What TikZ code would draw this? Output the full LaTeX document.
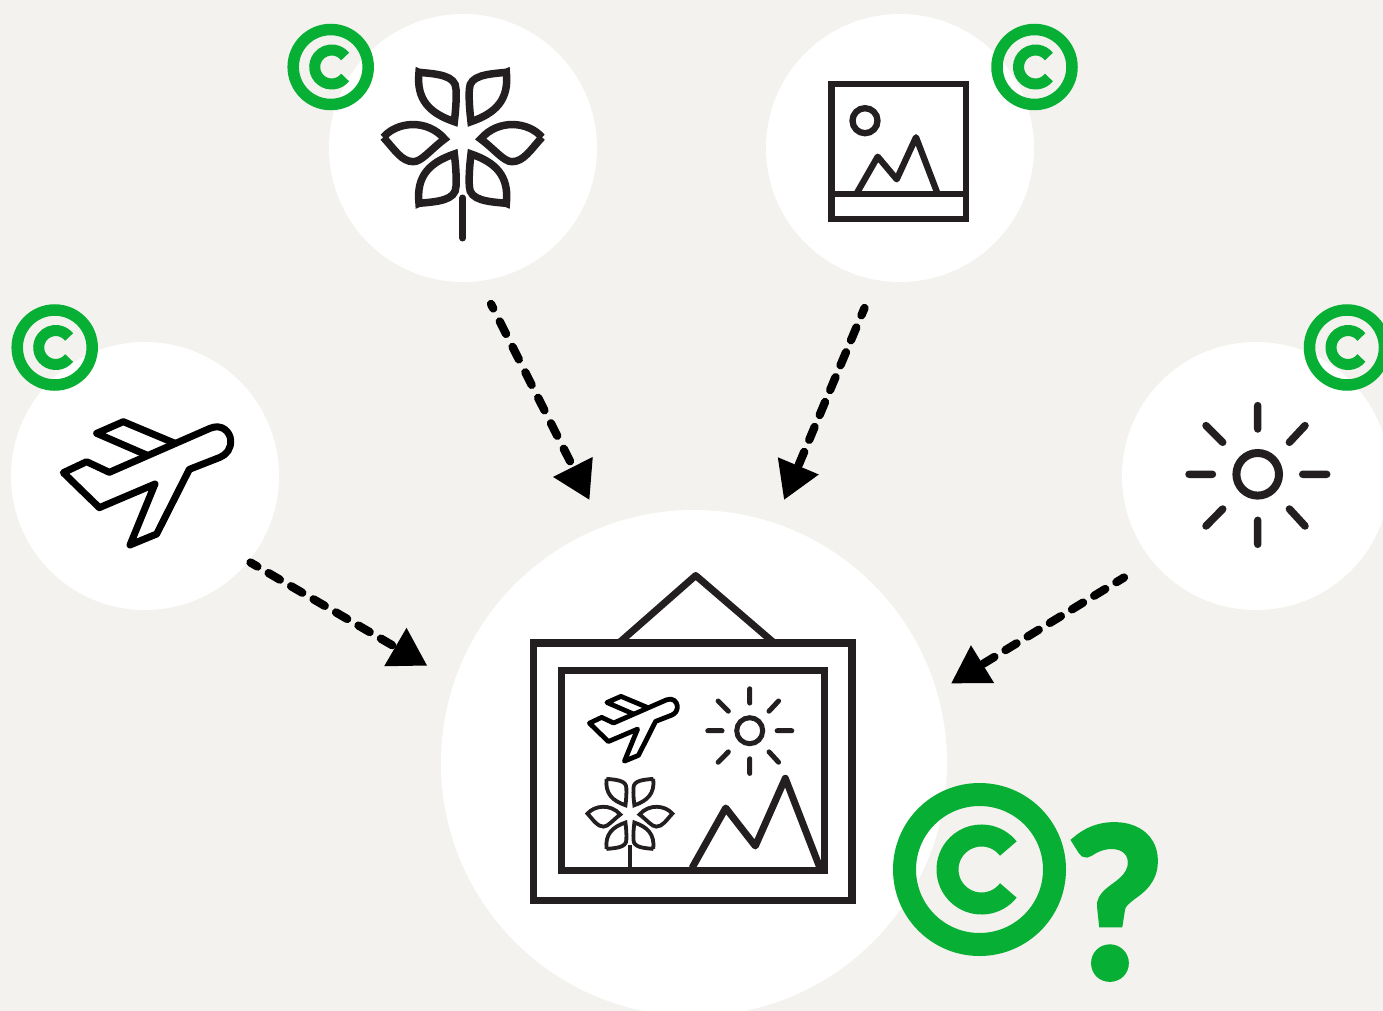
\documentclass[tikz,border=0pt]{standalone}
\usepackage{fontspec}
\usetikzlibrary{arrows.meta}
\newfontfamily\qmfont[BoldFeatures={FakeBold=3}]{Lato}
\definecolor{bgc}{HTML}{F3F2EE}
\definecolor{grn}{HTML}{07AF34}
\definecolor{ink}{HTML}{231F20}
\tikzset{
  disc/.style={circle,fill=white,inner sep=0pt,minimum size=#1},
  dasharrow/.style={line width=8.3pt,black,line cap=round,-{Triangle[length=37pt,width=42pt]}},
}
\newcommand{\copyr}[3]{%
  \begin{scope}[shift={(#1,#2)},scale=#3]
    \draw[grn,line width=#3*23pt] (0,0) circle (75);
    \draw[grn,line width=#3*22pt] (2,0) ++(38:34) arc[start angle=38,end angle=322,radius=34];
  \end{scope}}
\newcommand{\planeicon}[4]{%
  \begin{scope}[shift={(#1,#2)},scale=#3]
    \draw[black,line width=#4,line join=round,line cap=round]
      (328,277) -- (630,145) .. controls (665,130) and (690,155) .. (692,180)
      .. controls (694,205) and (680,224) .. (660,232) -- (568,268) -- (470,462) -- (390,495)
      -- (465,312) -- (298,383) -- (190,278) -- (260,245) -- cycle;
    \draw[black,line width=#4,line join=round,line cap=round]
      (440,225) -- (290,160) -- (370,125) -- (525,190);
  \end{scope}}
\newcommand{\onepetal}{(447,187) .. controls (500,192) and (558,195) .. (558,238)
      .. controls (560,270) and (556,310) .. (553,335)
      .. controls (480,310) and (438,270) .. cycle}
\newcommand{\sidepetal}{(340,382) .. controls (380,335) and (470,325) .. (524,387)
        .. controls (480,420) and (455,455) .. (430,455)
        .. controls (395,455) and (375,420) .. cycle}
\newcommand{\flowericon}[4]{%
  \begin{scope}[shift={(#1,#2)},scale=#3]
    \begin{scope}[draw=ink,line width=#4,miter limit=3]
      \draw \onepetal;
      \draw[shift={(1156,0)},xscale=-1] \onepetal;
      \draw[shift={(0,767)},yscale=-1] \onepetal;
      \draw[shift={(1156,767)},scale=-1] \onepetal;
      \draw \sidepetal;
      \draw[shift={(1156,0)},xscale=-1] \sidepetal;
    \end{scope}
  \end{scope}}
\newcommand{\sunicon}[5]{%
  \begin{scope}[shift={(#1,#2)},scale=#3]
    \draw[ink,line width=#4] (0,0) circle (21.3);
    \draw[ink,line width=#5,line cap=round]
      (0,-68.7) -- (0,-45.3) (0,70) -- (0,46) (-68.7,0) -- (-45.3,0) (69,0) -- (45,0)
      (-51.7,-48.7) -- (-35,-32) (47.3,-48.7) -- (31.7,-32)
      (-51.7,51.7) -- (-35,34.7) (47.3,51.7) -- (31.7,34.7);
  \end{scope}}
\begin{document}
\begin{tikzpicture}[x=1pt,y=-1pt]
  \useasboundingbox (0,0) rectangle (1383,1011);
  \clip (0,0) rectangle (1383,1011);
  \fill[bgc] (0,0) rectangle (1383,1011);

  \node[disc=268pt] (flower) at (463,148) {};
  \node[disc=268pt] (picture) at (900,148) {};
  \node[disc=268pt] (plane) at (145,476) {};
  \node[disc=268pt] (sun) at (1256,476) {};
  \node[disc=506pt] (result) at (694,763) {};

  % copyright marks
  \copyr{330.7}{67}{0.5}
  \copyr{1034.5}{67}{0.5}
  \copyr{54.7}{347.5}{0.5}
  \copyr{1347}{347.5}{0.5}
  \copyr{979.5}{869.5}{1}
  \node[text=grn,inner sep=0pt,font=\qmfont\bfseries\fontsize{208}{208}\selectfont] (qm) at (1115,902) {?};

  % plane icon
  \planeicon{0}{380}{1/3}{7pt}
  % flower icon
  \flowericon{270}{10}{1/3}{7.5pt}
  \draw[ink,line width=7pt,line cap=round] (462.7,198) -- (462.7,238);
  % picture icon
  \draw[ink,line width=6.3pt] (831.5,83.7) rectangle (966,218.7);
  \draw[ink,line width=6.3pt] (831.5,194) -- (966,194);
  \draw[ink,line width=6.3pt] (865,120.7) circle (12.5);
  \draw[ink,line width=6.3pt,line join=round] (856.7,193.3) -- (877.7,156.7) -- (896.7,179.3) -- (916,137.3) -- (937.7,194);
  % sun icon
  \sunicon{1257.7}{474.3}{1}{8pt}{7.5pt}

  % framed picture
  \draw[ink,line width=7pt,line join=round] (620,642) -- (695.7,575.5) -- (773,642);
  \draw[ink,line width=7.5pt] (533.7,643) rectangle (852,900.5);
  \draw[ink,line width=7.5pt] (561.3,670.3) rectangle (824.3,870.3);
  \planeicon{556.2}{674.5}{0.175}{4.8pt}
  \sunicon{749.7}{730.7}{0.61}{5pt}{5pt}
  \flowericon{526.85}{745.5}{0.1783}{3.8pt}
  \draw[ink,line width=3.5pt] (630,845) -- (630,870);
  \draw[ink,line width=7pt,line join=round] (692,868) -- (725.7,808) -- (755.3,846) -- (785.3,778.3) -- (820,868);

  % connectors
  \coordinate (a1s) at (491,304);
  \coordinate (a1e) at (589.5,500);
  \coordinate (a2s) at (864.5,308);
  \coordinate (a2e) at (784,500);
  \coordinate (a3s) at (250.5,562.5);
  \coordinate (a3e) at (427.3,665.7);
  \coordinate (a4s) at (1124,577.5);
  \coordinate (a4e) at (951,683.5);
  \draw[dasharrow,dash pattern=on 14pt off 14.5pt,dash phase=9pt] (a1s) -- (a1e);
  \draw[dasharrow,dash pattern=on 14pt off 13pt,dash phase=6pt] (a2s) -- (a2e);
  \draw[dasharrow,dash pattern=on 13pt off 13pt,dash phase=5pt] (a3s) -- (a3e);
  \draw[dasharrow,dash pattern=on 13pt off 13pt,dash phase=4pt] (a4s) -- (a4e);
\end{tikzpicture}
\end{document}
